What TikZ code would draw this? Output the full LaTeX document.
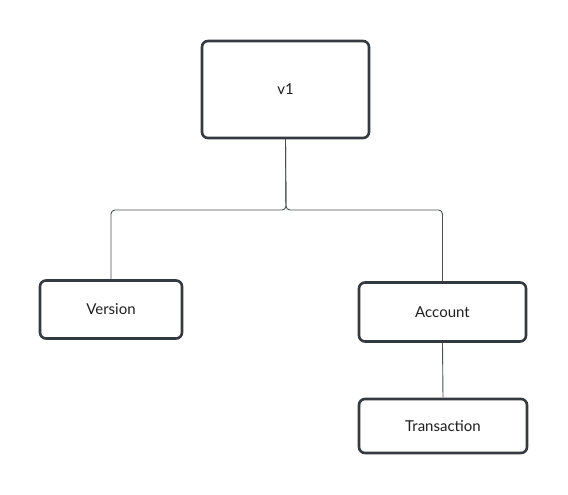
\documentclass[tikz,border=0pt]{standalone}
\usepackage{fontspec}
\setmainfont{Lato}
\definecolor{boxline}{HTML}{343A40}
\definecolor{wire}{HTML}{495057}
\definecolor{ink}{HTML}{1E1E1E}
\begin{document}
\begin{tikzpicture}[x=1pt, y=-1pt,
        box/.style={draw=boxline, line width=2.6pt, rounded corners=6pt, fill=white,
            text=ink, font=\fontsize{15}{17}\selectfont, inner sep=0pt},
        wire/.style={draw=wire, line width=0.9pt, rounded corners=4pt}]
    \useasboundingbox (0,0) rectangle (568,495);

    \node[box, minimum width=167pt, minimum height=97pt] (v1) at (285.5,89.5) {v1};
    \node[box, minimum width=142pt, minimum height=58pt] (version) at (111,309.5) {Version};
    \node[box, minimum width=167pt, minimum height=59pt] (account) at (442.5,312) {Account};
    \node[box, minimum width=168pt, minimum height=54pt] (transaction) at (443,426) {Transaction};

    \coordinate (split) at (286,210);
    \draw[wire] (v1.south) -- (split) -| (version.north);
    \draw[wire] (v1.south) -- (split) -| (account.north);
    \draw[wire] (account.south) -- (transaction.north);
\end{tikzpicture}
\end{document}
